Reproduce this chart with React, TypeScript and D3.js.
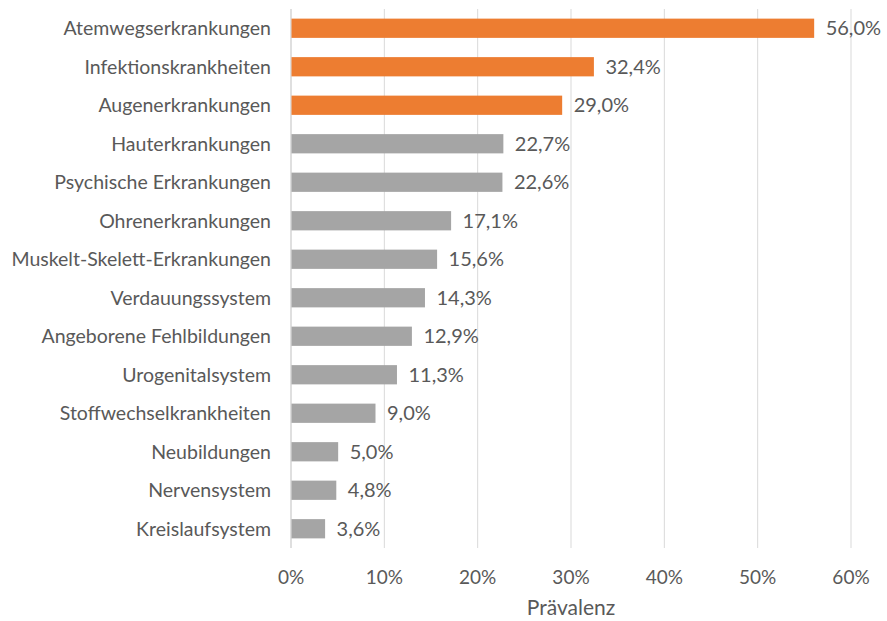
import React, { useRef, useEffect } from "react";
import * as d3 from "d3";

const categories = [
  "Atemwegserkrankungen",
  "Infektionskrankheiten",
  "Augenerkrankungen",
  "Hauterkrankungen",
  "Psychische Erkrankungen",
  "Ohrenerkrankungen",
  "Muskelt-Skelett-Erkrankungen",
  "Verdauungssystem",
  "Angeborene Fehlbildungen",
  "Urogenitalsystem",
  "Stoffwechselkrankheiten",
  "Neubildungen",
  "Nervensystem",
  "Kreislaufsystem",
];
const values = [56.0, 32.4, 29.0, 22.7, 22.6, 17.1, 15.6, 14.3, 12.9, 11.3, 9.0, 5.0, 4.8, 3.6];
const highlighted = [true, true, true, false, false, false, false, false, false, false, false, false, false, false];
const xTicks = [0, 10, 20, 30, 40, 50, 60];

const FONT = "Lato, sans-serif";
const TEXT = "#595959";

const App = () => {
  const ref = useRef<SVGSVGElement>(null);
  const width = 887;
  const height = 621;
  const margin = { top: 9, right: 36, bottom: 73, left: 291 };

  useEffect(() => {
    const svg = d3.select(ref.current);
    svg.selectAll("*").remove();

    const x = d3.scaleLinear().domain([0, 60]).range([margin.left, width - margin.right]);
    const y = d3
      .scaleBand()
      .domain(categories)
      .range([margin.top, height - margin.bottom])
      .paddingInner(0.5)
      .paddingOuter(0.25);

    // gridlines
    svg
      .append("g")
      .selectAll("line")
      .data(xTicks.slice(1))
      .enter()
      .append("line")
      .attr("x1", (d) => x(d))
      .attr("x2", (d) => x(d))
      .attr("y1", margin.top)
      .attr("y2", height - margin.bottom)
      .attr("stroke", "#d9d9d9")
      .attr("stroke-width", 1);

    svg
      .append("line")
      .attr("x1", x(0))
      .attr("x2", x(0))
      .attr("y1", margin.top)
      .attr("y2", height - margin.bottom)
      .attr("stroke", "#bfbfbf")
      .attr("stroke-width", 1);

    const rows = categories.map((c, i) => ({ c, v: values[i], h: highlighted[i] }));

    svg
      .append("g")
      .selectAll("rect")
      .data(rows)
      .enter()
      .append("rect")
      .attr("x", x(0) + 0.5)
      .attr("y", (d) => y(d.c)!)
      .attr("width", (d) => x(d.v) - x(0))
      .attr("height", y.bandwidth())
      .attr("fill", (d) => (d.h ? "#ed7d31" : "#a5a5a5"));

    // value labels
    svg
      .append("g")
      .selectAll("text")
      .data(rows)
      .enter()
      .append("text")
      .attr("x", (d) => x(d.v) + 12)
      .attr("y", (d) => y(d.c)! + y.bandwidth() / 2)
      .attr("dy", "0.35em")
      .attr("font-family", FONT)
      .attr("font-size", 20)
      .attr("fill", TEXT)
      .text((d) => d.v.toFixed(1).replace(".", ",") + "%");

    // category labels
    svg
      .append("g")
      .selectAll("text")
      .data(categories)
      .enter()
      .append("text")
      .attr("x", margin.left - 20)
      .attr("y", (d) => y(d)! + y.bandwidth() / 2)
      .attr("dy", "0.35em")
      .attr("text-anchor", "end")
      .attr("font-family", FONT)
      .attr("font-size", 19.5)
      .attr("fill", TEXT)
      .text((d) => d);

    // x tick labels
    svg
      .append("g")
      .selectAll("text")
      .data(xTicks)
      .enter()
      .append("text")
      .attr("x", (d) => x(d))
      .attr("y", 577)
      .attr("dy", "0.35em")
      .attr("text-anchor", "middle")
      .attr("font-family", FONT)
      .attr("font-size", 19)
      .attr("fill", TEXT)
      .text((d) => d + "%");

    svg
      .append("text")
      .attr("x", (x(0) + x(60)) / 2)
      .attr("y", 608)
      .attr("dy", "0.35em")
      .attr("text-anchor", "middle")
      .attr("font-family", FONT)
      .attr("font-size", 21)
      .attr("fill", TEXT)
      .text("Prävalenz");
  }, []);

  return (
    <svg
      ref={ref}
      width={width}
      height={height}
      style={{ position: "absolute", left: 0, top: 0, background: "#fff" }}
    ></svg>
  );
};

export default App;
